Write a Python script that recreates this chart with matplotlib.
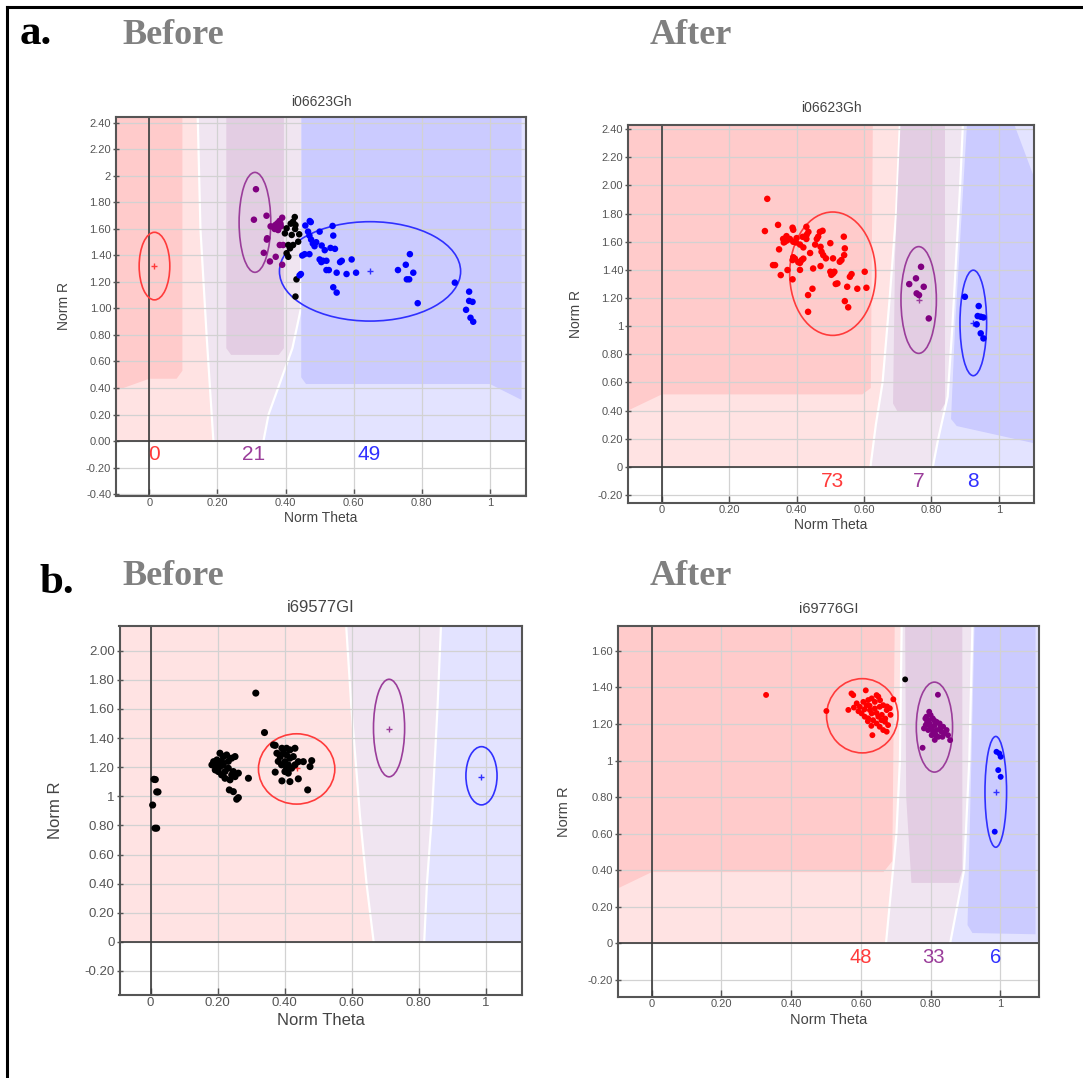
import matplotlib
matplotlib.use("Agg")
import matplotlib.pyplot as plt
from matplotlib.patches import Ellipse, Polygon
from matplotlib.lines import Line2D

# ---- figure size (pixels) ----
W, H = 1083, 1078

# ---- colours ----
RED, PURPLE, BLUE, BLACK = "#ff0000", "#800080", "#0000ff", "#000000"
RING = {"red": "#ff3b3b", "purple": "#9a3d9a", "blue": "#3030ff"}
LIGHT = {"red": "#ffe3e3", "purple": "#f0e5f1", "blue": "#e3e3ff"}
DARK = {"red": "#ffcbcb", "purple": "#e3cde3", "blue": "#cbcbff"}

# ---- tick labels ----
x_ticks = [0, 0.2, 0.4, 0.6, 0.8, 1.0]
x_labels = ["0", "0.20", "0.40", "0.60", "0.80", "1"]

ab_y_ticks = [-0.4, -0.2, 0, 0.2, 0.4, 0.6, 0.8, 1.0, 1.2, 1.4, 1.6, 1.8, 2.0, 2.2, 2.4]
ab_y_labels = ["-0.40", "-0.20", "0.00", "0.20", "0.40", "0.60", "0.80", "1.00",
               "1.20", "1.40", "1.60", "1.80", "2", "2.20", "2.40"]
aa_y_ticks = [-0.2, 0, 0.2, 0.4, 0.6, 0.8, 1.0, 1.2, 1.4, 1.6, 1.8, 2.0, 2.2, 2.4]
aa_y_labels = ["-0.20", "0", "0.20", "0.40", "0.60", "0.80", "1", "1.20",
               "1.40", "1.60", "1.80", "2.00", "2.20", "2.40"]
bb_y_ticks = [-0.2, 0, 0.2, 0.4, 0.6, 0.8, 1.0, 1.2, 1.4, 1.6, 1.8, 2.0]
bb_y_labels = ["-0.20", "0", "0.20", "0.40", "0.60", "0.80", "1", "1.20",
               "1.40", "1.60", "1.80", "2.00"]
ba_y_ticks = [-0.2, 0, 0.2, 0.4, 0.6, 0.8, 1.0, 1.2, 1.4, 1.6]
ba_y_labels = ["-0.20", "0", "0.20", "0.40", "0.60", "0.80", "1", "1.20", "1.40", "1.60"]

# =================== a. Before (i06623Gh) ===================
ab_purple_x = [0.313, 0.307, 0.344, 0.346, 0.336, 0.354, 0.371, 0.39, 0.364, 0.376,
               0.39, 0.378, 0.393, 0.383, 0.37, 0.382, 0.368, 0.386, 0.356, 0.345, 0.385]
ab_purple_y = [1.90, 1.67, 1.70, 1.53, 1.42, 1.355, 1.39, 1.33, 1.617, 1.643,
               1.685, 1.592, 1.479, 1.479, 1.63, 1.66, 1.60, 1.62, 1.62, 1.52, 1.64]
ab_black_x = [0.427, 0.429, 0.422, 0.403, 0.418, 0.398, 0.437, 0.408, 0.413, 0.403,
              0.422, 0.408, 0.432, 0.429, 0.428, 0.415, 0.44]
ab_black_y = [1.69, 1.63, 1.655, 1.605, 1.555, 1.567, 1.504, 1.479, 1.454, 1.417,
              1.479, 1.39, 1.22, 1.09, 1.60, 1.64, 1.56]
ab_blue_x = [0.471, 0.458, 0.474, 0.466, 0.47, 0.475, 0.48, 0.485, 0.50, 0.538,
             0.54, 0.532, 0.506, 0.515, 0.47, 0.449, 0.456, 0.445, 0.441, 0.50,
             0.505, 0.51, 0.52, 0.527, 0.55, 0.56, 0.565, 0.579, 0.594, 0.607,
             0.54, 0.55, 0.73, 0.753, 0.765, 0.775, 0.756, 0.763, 0.788, 0.897,
             0.939, 0.939, 0.949, 0.93, 0.943, 0.951, 0.49, 0.52, 0.545]
ab_blue_y = [1.66, 1.626, 1.652, 1.58, 1.55, 1.52, 1.49, 1.47, 1.58, 1.623,
             1.55, 1.457, 1.475, 1.44, 1.41, 1.40, 1.41, 1.26, 1.25, 1.37,
             1.35, 1.36, 1.29, 1.29, 1.27, 1.35, 1.36, 1.26, 1.37, 1.27,
             1.16, 1.12, 1.29, 1.33, 1.41, 1.27, 1.22, 1.22, 1.04, 1.195,
             1.127, 1.057, 1.05, 0.99, 0.93, 0.90, 1.50, 1.36, 1.45]
ab_rings = {"red": (0.015, 1.32, 0.09, 0.51),
            "purple": (0.31, 1.65, 0.093, 0.754),
            "blue": (0.648, 1.28, 0.532, 0.75)}
ab_counts = {"red": (0.015, "0"), "purple": (0.305, "21"), "blue": (0.645, "49")}
ab_b1_y = [0, 0.4, 0.8, 1.6, 2.445]
ab_b1_x = [0.188, 0.178, 0.168, 0.15, 0.142]
ab_b2_y = [0, 0.2, 0.45, 0.7, 1.0, 2.445]
ab_b2_x = [0.335, 0.35, 0.385, 0.42, 0.445, 0.45]
ab_dark = {"red": [(-0.098, 0.38), (0.0, 0.47), (0.08, 0.47), (0.097, 0.53), (0.097, 2.445), (-0.098, 2.445)],
           "purple": [(0.226, 2.445), (0.226, 0.70), (0.24, 0.65), (0.38, 0.65), (0.395, 0.70), (0.395, 2.445)],
           "blue": [(0.446, 2.445), (0.446, 0.48), (0.46, 0.43), (1.0, 0.43), (1.093, 0.31), (1.093, 2.445)]}

# =================== a. After (i06623Gh) ===================
aa_red_x = [0.313, 0.306, 0.345, 0.388, 0.39, 0.36, 0.365, 0.368, 0.372, 0.362,
            0.37, 0.40, 0.418, 0.43, 0.429, 0.435, 0.469, 0.477, 0.464, 0.46,
            0.50, 0.54, 0.543, 0.541, 0.533, 0.528, 0.471, 0.474, 0.479, 0.487,
            0.508, 0.42, 0.44, 0.348, 0.39, 0.388, 0.395, 0.415, 0.42, 0.405,
            0.41, 0.336, 0.33, 0.373, 0.41, 0.449, 0.471, 0.353, 0.388, 0.50,
            0.508, 0.512, 0.503, 0.563, 0.558, 0.602, 0.521, 0.516, 0.55, 0.58,
            0.607, 0.447, 0.434, 0.543, 0.553, 0.434, 0.38, 0.39, 0.41, 0.455,
            0.398, 0.367, 0.429]
aa_red_y = [1.905, 1.676, 1.72, 1.70, 1.685, 1.62, 1.60, 1.626, 1.61, 1.595,
            1.64, 1.626, 1.635, 1.65, 1.706, 1.67, 1.67, 1.678, 1.636, 1.62,
            1.59, 1.636, 1.553, 1.505, 1.47, 1.458, 1.564, 1.529, 1.505, 1.482,
            1.482, 1.56, 1.52, 1.546, 1.49, 1.47, 1.48, 1.47, 1.48, 1.455,
            1.45, 1.434, 1.434, 1.399, 1.40, 1.41, 1.427, 1.363, 1.333, 1.387,
            1.375, 1.387, 1.365, 1.37, 1.351, 1.387, 1.304, 1.30, 1.28, 1.266,
            1.273, 1.266, 1.221, 1.178, 1.134, 1.102, 1.62, 1.60, 1.58, 1.58,
            1.595, 1.62, 1.62]
aa_purple_x = [0.769, 0.754, 0.734, 0.777, 0.756, 0.763, 0.792]
aa_purple_y = [1.422, 1.34, 1.299, 1.28, 1.233, 1.221, 1.055]
aa_blue_x = [0.899, 0.94, 0.937, 0.946, 0.954, 0.934, 0.946, 0.954]
aa_blue_y = [1.209, 1.143, 1.072, 1.067, 1.062, 1.013, 0.949, 0.913]
aa_rings = {"red": (0.507, 1.373, 0.255, 0.877),
            "purple": (0.762, 1.186, 0.105, 0.759),
            "blue": (0.924, 1.023, 0.079, 0.75)}
aa_counts = {"red": (0.506, "73"), "purple": (0.761, "7"), "blue": (0.922, "8")}
aa_b1_y = [0, 0.3, 0.6, 1.2, 1.8, 2.43]
aa_b1_x = [0.619, 0.635, 0.655, 0.676, 0.695, 0.706]
aa_b2_y = [0, 0.2, 0.5, 1.0, 2.0, 2.43]
aa_b2_x = [0.804, 0.82, 0.848, 0.862, 0.885, 0.893]
aa_dark = {"red": [(-0.10, 0.40), (0.0, 0.515), (0.595, 0.515), (0.62, 0.56), (0.626, 2.43), (-0.10, 2.43)],
           "purple": [(0.708, 2.43), (0.692, 1.5), (0.686, 0.45), (0.70, 0.39), (0.825, 0.39), (0.84, 0.45), (0.84, 2.43)],
           "blue": [(0.905, 2.43), (0.87, 1.0), (0.858, 0.34), (0.875, 0.29), (1.104, 0.168), (1.104, 2.06), (1.046, 2.43)]}

# =================== b. Before (i69577GI) ===================
bb_black_x = [0.010, 0.014, 0.018, 0.022, 0.006, 0.013, 0.018,
              0.188, 0.198, 0.207, 0.217, 0.227, 0.242, 0.252, 0.193, 0.202, 0.212,
              0.222, 0.237, 0.252, 0.262, 0.247, 0.232, 0.217, 0.207, 0.198, 0.183,
              0.212, 0.232, 0.222, 0.242, 0.292, 0.235, 0.247, 0.262, 0.257, 0.198,
              0.314, 0.34, 0.367, 0.372, 0.392, 0.406, 0.416, 0.431, 0.377, 0.387,
              0.396, 0.406, 0.416, 0.401, 0.411, 0.391, 0.406, 0.421, 0.431, 0.441,
              0.426, 0.401, 0.411, 0.381, 0.456, 0.481, 0.476, 0.372, 0.392, 0.416,
              0.441, 0.469]
bb_black_y = [1.117, 1.115, 1.03, 1.03, 0.94, 0.781, 0.781,
              1.238, 1.227, 1.296, 1.273, 1.284, 1.262, 1.273, 1.181, 1.17, 1.147,
              1.124, 1.113, 1.135, 1.159, 1.17, 1.193, 1.216, 1.204, 1.204, 1.216,
              1.24, 1.24, 1.17, 1.147, 1.124, 1.044, 1.032, 0.991, 0.98, 1.25,
              1.709, 1.438, 1.353, 1.35, 1.33, 1.33, 1.319, 1.33, 1.296, 1.273,
              1.296, 1.284, 1.262, 1.238, 1.216, 1.216, 1.193, 1.193, 1.216, 1.238,
              1.273, 1.17, 1.159, 1.24, 1.238, 1.245, 1.204, 1.166, 1.106, 1.101,
              1.12, 1.044]
bb_rings = {"red": (0.436, 1.188, 0.228, 0.483),
            "purple": (0.712, 1.469, 0.093, 0.67),
            "blue": (0.988, 1.141, 0.093, 0.40)}
bb_centres = {"red": (0.436, 1.193), "purple": (0.712, 1.465), "blue": (0.987, 1.134)}
bb_b1_y = [0, 0.395, 0.869, 1.626, 2.17]
bb_b1_x = [0.666, 0.645, 0.625, 0.599, 0.584]
bb_b2_y = [0, 0.395, 0.869, 1.626, 2.17]
bb_b2_x = [0.817, 0.825, 0.84, 0.857, 0.867]

# =================== b. After (i69776GI) ===================
ba_red_x = [0.328, 0.501, 0.573, 0.578, 0.614, 0.645, 0.65, 0.693, 0.564, 0.588,
            0.597, 0.607, 0.616, 0.626, 0.602, 0.611, 0.621, 0.631, 0.64, 0.654,
            0.664, 0.674, 0.683, 0.635, 0.645, 0.654, 0.664, 0.674, 0.65, 0.659,
            0.669, 0.678, 0.621, 0.631, 0.64, 0.633, 0.675, 0.58, 0.593, 0.62,
            0.66, 0.67, 0.645, 0.625, 0.655, 0.61, 0.685, 0.63]
ba_red_y = [1.359, 1.271, 1.367, 1.358, 1.384, 1.358, 1.35, 1.335, 1.277, 1.313,
            1.294, 1.321, 1.303, 1.276, 1.258, 1.24, 1.231, 1.258, 1.285, 1.294,
            1.303, 1.276, 1.286, 1.221, 1.203, 1.185, 1.167, 1.158, 1.24, 1.221,
            1.212, 1.194, 1.331, 1.34, 1.321, 1.139, 1.296, 1.29, 1.27, 1.215,
            1.25, 1.23, 1.26, 1.30, 1.33, 1.28, 1.25, 1.19]
ba_purple_x = [0.821, 0.777, 0.856, 0.846, 0.812, 0.796, 0.80, 0.806, 0.793, 0.786,
               0.781, 0.793, 0.803, 0.812, 0.817, 0.826, 0.836, 0.85, 0.831, 0.822,
               0.803, 0.807, 0.788, 0.797, 0.817, 0.79, 0.84, 0.828, 0.81, 0.799,
               0.815, 0.785, 0.834]
ba_purple_y = [1.36, 1.07, 1.112, 1.167, 1.113, 1.267, 1.249, 1.231, 1.221, 1.194,
               1.176, 1.167, 1.176, 1.194, 1.212, 1.203, 1.185, 1.139, 1.158, 1.13,
               1.139, 1.158, 1.24, 1.203, 1.167, 1.21, 1.15, 1.18, 1.22, 1.185,
               1.14, 1.23, 1.13]
ba_black_x = [0.727]
ba_black_y = [1.444]
ba_blue_x = [0.989, 0.997, 1.001, 0.994, 1.001, 0.984]
ba_blue_y = [1.048, 1.039, 1.021, 0.948, 0.911, 0.611]
ba_rings = {"red": (0.604, 1.245, 0.205, 0.406),
            "purple": (0.811, 1.183, 0.104, 0.492),
            "blue": (0.987, 0.829, 0.062, 0.606)}
ba_counts = {"red": (0.601, "48"), "purple": (0.809, "33"), "blue": (0.986, "6")}
ba_b1_y = [0, 0.3, 0.6, 1.0, 1.736]
ba_b1_x = [0.672, 0.687, 0.702, 0.712, 0.717]
ba_b2_y = [0, 0.4, 1.0, 1.736]
ba_b2_x = [0.856, 0.896, 0.911, 0.92]
ba_dark = {"red": [(-0.098, 0.30), (0.0, 0.39), (0.665, 0.39), (0.69, 0.45), (0.697, 1.736), (-0.098, 1.736)],
           "purple": [(0.727, 1.736), (0.73, 0.8), (0.745, 0.331), (0.88, 0.331), (0.891, 0.4), (0.891, 1.736)],
           "blue": [(0.926, 1.736), (0.906, 0.1), (0.92, 0.057), (1.101, 0.05), (1.101, 1.736)]}

SANS = ["Liberation Sans", "DejaVu Sans"]
SERIF = ["Liberation Serif", "DejaVu Serif"]

fig = plt.figure(figsize=(W / 100, H / 100), dpi=100)


def ftext(x, y, s, **kw):
    # text placed in figure pixels (y measured from the top)
    fig.text(x / W, 1 - y / H, s, **kw)


def panel(frame, xlim, ylim, y_ticks, y_labels, title, sizes, b1, b2, dark,
          scat, rings, centres, counts, count_y, pads):
    l, t, r, b = frame
    ax = fig.add_axes([l / W, 1 - b / H, (r - l) / W, (b - t) / H])
    ax.set_xlim(*xlim)
    ax.set_ylim(*ylim)
    top = ylim[1]

    # light cluster regions
    b1_pts = list(zip(b1[1], b1[0]))
    b2_pts = list(zip(b2[1], b2[0]))
    ax.add_patch(Polygon([(xlim[0], 0)] + b1_pts + [(xlim[0], top)],
                         fc=LIGHT["red"], ec="none", zorder=0.6))
    ax.add_patch(Polygon(b1_pts + b2_pts[::-1], fc=LIGHT["purple"], ec="none", zorder=0.6))
    ax.add_patch(Polygon(b2_pts + [(xlim[1], top), (xlim[1], 0)],
                         fc=LIGHT["blue"], ec="none", zorder=0.6))
    for bx in (b1, b2):
        ax.plot(bx[1], bx[0], color="white", lw=1.6, zorder=0.8)
    # dark core regions
    for key, poly in dark.items():
        ax.add_patch(Polygon(poly, fc=DARK[key], ec="none", zorder=0.9, joinstyle="round"))

    ax.set_axisbelow("line")
    ax.grid(True, color="#d2d2d2", lw=0.9)
    ax.axvline(0, color="#3a3a3a", lw=1.2, zorder=2)
    ax.axhline(0, color="#3a3a3a", lw=1.2, zorder=2)

    for key, (cx, cy, w, h) in rings.items():
        ax.add_patch(Ellipse((cx, cy), w, h, fill=False, ec=RING[key], lw=1.2, zorder=3))
    for key, (cx, cy) in centres.items():
        ax.plot(cx, cy, marker="+", ms=5, mew=1.0, color=RING[key], zorder=4)
    for xs, ys, col in scat:
        ax.scatter(xs, ys, s=sizes["pt"], color=col, edgecolors="none", zorder=4)
    for key, (cx, s) in counts.items():
        ax.text(cx, count_y, s, color=RING[key], fontsize=sizes["count"], family=SANS,
                ha="center", va="center", zorder=5)

    ax.set_xticks(x_ticks)
    ax.set_xticklabels(x_labels)
    ax.set_yticks(y_ticks)
    ax.set_yticklabels(y_labels)
    ax.tick_params(width=1.0, color="#555555", labelcolor="#555555",
                   labelsize=sizes["tick"])
    ax.tick_params(axis="x", direction="in", length=5, pad=1.5)
    ax.tick_params(axis="y", direction="inout", length=5, pad=1)
    for lab in ax.get_xticklabels() + ax.get_yticklabels():
        lab.set_family(SANS)
    for sp in ax.spines.values():
        sp.set_color("#555555")
        sp.set_linewidth(1.5)

    cx = (l + r) / 2
    ftext(cx, t - pads[0], title, ha="center", va="center", fontsize=sizes["title"],
          color="#444444", family=SANS)
    ftext(cx, b + pads[1], "Norm Theta", ha="center", va="center",
          fontsize=sizes["label"], color="#444444", family=SANS)
    ftext(l - pads[2], (t + b) / 2, "Norm R", ha="center", va="center", rotation=90,
          fontsize=sizes["label"], color="#444444", family=SANS)
    return ax


small = {"pt": 22, "count": 15, "tick": 8, "title": 10, "label": 10}
big = {"pt": 26, "count": 15, "tick": 9.5, "title": 12, "label": 12}
b_after = {"pt": 18, "count": 14.5, "tick": 8, "title": 10.5, "label": 10.5}

panel((116, 117, 526, 496), (-0.098, 1.106), (-0.415, 2.445), ab_y_ticks, ab_y_labels,
      "i06623Gh", small, (ab_b1_y, ab_b1_x), (ab_b2_y, ab_b2_x), ab_dark,
      [(ab_purple_x, ab_purple_y, PURPLE), (ab_black_x, ab_black_y, BLACK),
       (ab_blue_x, ab_blue_y, BLUE)],
      ab_rings, {"red": ab_rings["red"][:2], "blue": ab_rings["blue"][:2]},
      ab_counts, -0.10, (15.5, 21.6, 52.3))

panel((628, 125, 1034, 503), (-0.10, 1.104), (-0.257, 2.43), aa_y_ticks, aa_y_labels,
      "i06623Gh", small, (aa_b1_y, aa_b1_x), (aa_b2_y, aa_b2_x), aa_dark,
      [(aa_red_x, aa_red_y, RED), (aa_purple_x, aa_purple_y, PURPLE),
       (aa_blue_x, aa_blue_y, BLUE)],
      aa_rings, {"purple": aa_rings["purple"][:2], "blue": aa_rings["blue"][:2]},
      aa_counts, -0.103, (17, 22.3, 51.6))

panel((119.5, 626, 522, 995), (-0.093, 1.109), (-0.365, 2.17), bb_y_ticks, bb_y_labels,
      "i69577GI", big, (bb_b1_y, bb_b1_x), (bb_b2_y, bb_b2_x), {},
      [(bb_black_x, bb_black_y, BLACK)],
      bb_rings, bb_centres, {}, 0, (19, 25.4, 64.4))

panel((617.6, 626, 1039, 997), (-0.098, 1.111), (-0.293, 1.736), ba_y_ticks, ba_y_labels,
      "i69776GI", b_after, (ba_b1_y, ba_b1_x), (ba_b2_y, ba_b2_x), ba_dark,
      [(ba_red_x, ba_red_y, RED), (ba_purple_x, ba_purple_y, PURPLE),
       (ba_black_x, ba_black_y, BLACK), (ba_blue_x, ba_blue_y, BLUE)],
      ba_rings, {"blue": ba_rings["blue"][:2]},
      ba_counts, -0.075, (17, 22.6, 53.4))

# ---- panel headings ----
ftext(20, 44, "a.", fontsize=31, fontweight="bold", family=SERIF, va="baseline")
ftext(122, 44, "Before", fontsize=26, fontweight="bold", color="#808080", family=SERIF, va="baseline")
ftext(650, 44, "After", fontsize=26, fontweight="bold", color="#808080", family=SERIF, va="baseline")
ftext(39, 593, "b.", fontsize=31, fontweight="bold", family=SERIF, va="baseline")
ftext(122, 585, "Before", fontsize=26, fontweight="bold", color="#808080", family=SERIF, va="baseline")
ftext(650, 585, "After", fontsize=26, fontweight="bold", color="#808080", family=SERIF, va="baseline")

# ---- outer frame (top and left only) ----
fig.add_artist(Line2D([7 / W, 7 / W], [0, 1 - 7 / H], color="black", lw=2.2))
fig.add_artist(Line2D([7 / W, 1], [1 - 7 / H, 1 - 7 / H], color="black", lw=2.2))

fig.savefig("out.png", dpi=100)
